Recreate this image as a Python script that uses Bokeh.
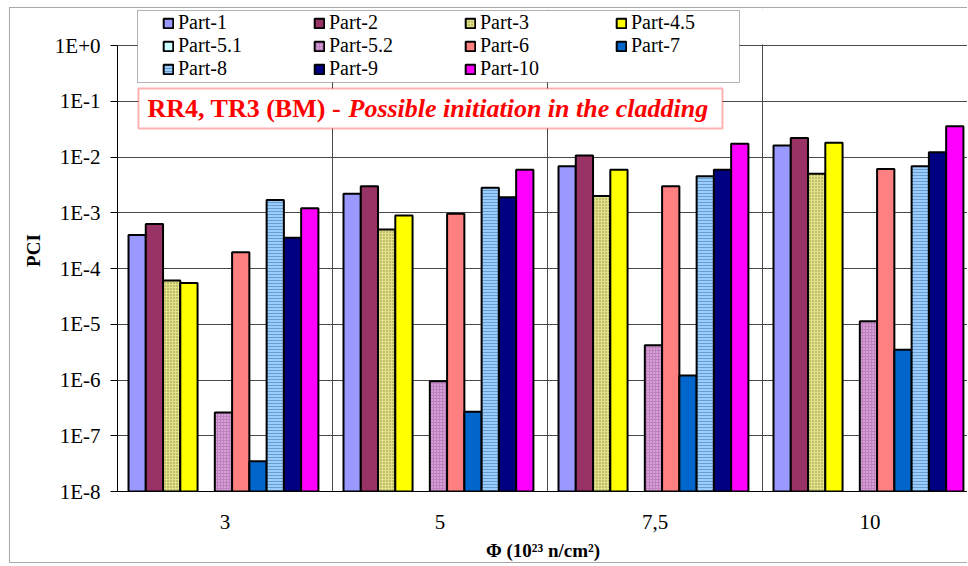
from bokeh.plotting import figure
from bokeh.models import (Range1d, FixedTicker, Legend, LegendItem, ColumnDataSource,
                          Label, BoxAnnotation)
from bokeh.embed import file_html
from bokeh.resources import INLINE

# ---------------- data ----------------
categories = ["3", "5", "7,5", "10"]
parts = ["Part-1", "Part-2", "Part-3", "Part-4.5", "Part-5.1", "Part-5.2",
         "Part-6", "Part-7", "Part-8", "Part-9", "Part-10"]
nan = float("nan")
part_1 = [4.0e-4, 2.2e-3, 6.8e-3, 1.6e-2]
part_2 = [6.3e-4, 3.0e-3, 1.06e-2, 2.2e-2]
part_3 = [6.1e-5, 5.0e-4, 2.0e-3, 5.0e-3]
part_4_5 = [5.5e-5, 8.9e-4, 5.9e-3, 1.8e-2]
part_5_1 = [nan, nan, nan, nan]          # below the axis minimum (not visible)
part_5_2 = [2.6e-7, 9.5e-7, 4.2e-6, 1.13e-5]
part_6 = [1.96e-4, 9.6e-4, 3.0e-3, 6.1e-3]
part_7 = [3.5e-8, 2.7e-7, 1.2e-6, 3.5e-6]
part_8 = [1.7e-3, 2.8e-3, 4.5e-3, 6.8e-3]
part_9 = [3.55e-4, 1.9e-3, 5.9e-3, 1.22e-2]
part_10 = [1.2e-3, 5.9e-3, 1.72e-2, 3.57e-2]
series = [part_1, part_2, part_3, part_4_5, part_5_1, part_5_2,
          part_6, part_7, part_8, part_9, part_10]

y_ticks = [1e-8, 1e-7, 1e-6, 1e-5, 1e-4, 1e-3, 1e-2, 1e-1, 1.0]
y_labels = ["1E-8", "1E-7", "1E-6", "1E-5", "1E-4", "1E-3", "1E-2", "1E-1", "1E+0"]

title_a = "RR4, TR3 (BM) - "
title_b = "Possible initiation in the cladding"
x_title = "Φ (10²³ n/cm²)"
y_title = "PCI"

# ---------------- styles ----------------
styles = [
    dict(fill_color="#9999FF"),
    dict(fill_color="#993366"),
    dict(fill_color="#E2E28A", hatch_pattern="dot", hatch_color="#8C8C3A", hatch_scale=3, hatch_weight=1),
    dict(fill_color="#FFFF00"),
    dict(fill_color="#CCFFFF"),
    dict(fill_color="#C080C0", hatch_pattern="dot", hatch_color="#F0D0F0", hatch_scale=3, hatch_weight=1),
    dict(fill_color="#FF8080"),
    dict(fill_color="#0066CC"),
    dict(fill_color="#99CCFF", hatch_pattern="horizontal_line", hatch_color="#6A9CCC", hatch_scale=3, hatch_weight=1),
    dict(fill_color="#000080"),
    dict(fill_color="#FF00FF"),
]

FONT = "Liberation Serif"
cat_w = 215.0          # px per category
frame_w = 851          # px
decade_px = 55.75      # px per decade on the y axis
top_pad_px = 36        # frame space above 1E+0 (holds the legend)
group_off = 0.0512     # gap before first bar (category units)
bar_w = 0.0803         # bar width (category units)
n_dec = 8
y_top = 10 ** (top_pad_px / decade_px)

p = figure(width=958, height=556, y_axis_type="log",
           x_range=Range1d(0, frame_w / cat_w), y_range=Range1d(1e-8, y_top),
           output_backend="svg", toolbar_location=None,
           min_border_left=107, min_border_right=0, min_border_top=1, min_border_bottom=73)
p.styles = {"margin-left": "9px", "margin-top": "7px",
            "border-left": "1px solid #a8a8a8", "border-top": "1px solid #a8a8a8",
            "border-bottom": "1px solid #a8a8a8"}
p.outline_line_color = None
p.background_fill_color = "white"
p.border_fill_color = "white"

items = []
for j, (name, vals, st) in enumerate(zip(parts, series, styles)):
    xs = [i + group_off + (j + 0.5) * bar_w for i in range(len(categories))]
    src = ColumnDataSource(dict(x=xs, top=vals))
    r = p.vbar(x="x", top="top", bottom=y_ticks[0], width=bar_w, source=src,
               line_color="black", line_width=2, **st)
    items.append(LegendItem(label=name, renderers=[r]))

# axes
yt = FixedTicker(ticks=y_ticks)
p.yaxis.ticker = yt
p.yaxis.bounds = (y_ticks[0], y_ticks[-1])
p.yaxis.major_label_overrides = dict(zip(y_ticks, y_labels))
p.yaxis.minor_tick_line_color = None
p.yaxis.major_tick_out = 7
p.yaxis.major_tick_in = 0
p.yaxis.major_label_standoff = 10
p.yaxis.axis_label = y_title
p.yaxis.axis_label_standoff = 8
p.ygrid.ticker = yt

x_centers = [i + 0.5 for i in range(len(categories))]
p.xaxis.ticker = FixedTicker(ticks=x_centers)
p.xaxis.major_label_overrides = dict(zip(x_centers, categories))
p.xaxis.major_tick_out = 0
p.xaxis.major_tick_in = 0
p.xaxis.minor_tick_line_color = None
p.xaxis.major_label_standoff = 23
p.xaxis.axis_label = x_title
p.xaxis.axis_label_standoff = 8
p.xgrid.ticker = FixedTicker(ticks=list(range(1, len(categories))))

for ax in (p.xaxis, p.yaxis):
    ax.axis_line_color = "black"
    ax.major_tick_line_color = "black"
    ax.major_label_text_font = FONT
    ax.major_label_text_font_size = "21px"
    ax.major_label_text_color = "black"
    ax.axis_label_text_font = FONT
    ax.axis_label_text_font_size = "19px"
    ax.axis_label_text_font_style = "bold"
    ax.axis_label_text_color = "black"

for g in (p.xgrid, p.ygrid):
    g.grid_line_color = "#484848"
    g.grid_line_width = 1

# white strip above 1E+0 (frame space used by the legend)
cover = BoxAnnotation(bottom=n_dec * decade_px + 1, bottom_units="screen",
                      fill_color="white", fill_alpha=1, line_alpha=0)
p.add_layout(cover)

# legend frame
lbox = BoxAnnotation(left=20, right=622, bottom=409, top=481,
                     left_units="screen", right_units="screen",
                     top_units="screen", bottom_units="screen",
                     fill_color="white", fill_alpha=1, line_color="black", line_width=1)
p.add_layout(lbox)

# title box
box = BoxAnnotation(left=21, right=605, bottom=363, top=403,
                    left_units="screen", right_units="screen",
                    top_units="screen", bottom_units="screen",
                    fill_color="white", fill_alpha=1, line_color="red", line_width=2)
p.add_layout(box)
la = Label(x=30, y=383, x_units="screen", y_units="screen", text=title_a,
           text_font=FONT, text_font_style="bold", text_font_size="26px",
           text_color="#FF0000", text_baseline="middle")
lb = Label(x=231, y=383, x_units="screen", y_units="screen", text=title_b,
           text_font=FONT, text_font_style="bold italic", text_font_size="26px",
           text_color="#FF0000", text_baseline="middle")
p.add_layout(la)
p.add_layout(lb)

legend = Legend(items=items, location=(41, 407), orientation="horizontal", ncols=4,
                padding=4, spacing=0, margin=0, glyph_width=12, glyph_height=12,
                label_standoff=4, label_width=135, label_height=18,
                label_text_font=FONT, label_text_font_size="20px", label_text_color="black",
                border_line_alpha=0, background_fill_alpha=0)
p.add_layout(legend, "center")

open("out.html", "w").write(file_html(p, INLINE))
